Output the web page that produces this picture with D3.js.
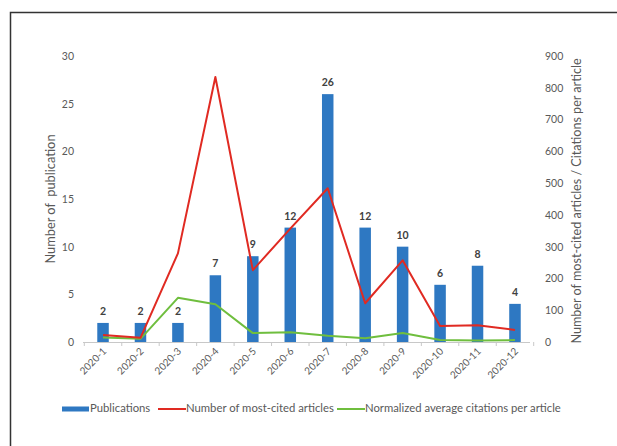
<!DOCTYPE html>
<html>
<head>
<meta charset="utf-8">
<script src="https://cdn.jsdelivr.net/npm/d3@7"></script>
<style>
  html, body { margin: 0; padding: 0; background: #fff; }
  svg { display: block; font-family: Lato, "Open Sans", sans-serif; }
</style>
</head>
<body>
<svg id="chart" width="617" height="446"></svg>
<script>
// Monthly categories
const months = ["2020-1","2020-2","2020-3","2020-4","2020-5","2020-6",
                "2020-7","2020-8","2020-9","2020-10","2020-11","2020-12"];
// Publications per month (left axis)
const publications = [2, 2, 2, 7, 9, 12, 26, 12, 10, 6, 8, 4];
// Number of most-cited articles (right axis)
const mostCited = [22, 13, 279, 834, 226, 357, 484, 122, 257, 50, 53, 38];
// Normalized average citations per article (right axis)
const normCitations = [14, 10, 139, 119, 28, 31, 20, 12, 28, 6, 5, 6];
// Axis ticks
const leftTicks = [0, 5, 10, 15, 20, 25, 30];
const rightTicks = [0, 100, 200, 300, 400, 500, 600, 700, 800, 900];
// Legend entries
const legendLabels = ["Publications", "Number of most-cited articles", "Normalized average citations per article"];

const svg = d3.select("#chart");
const C = { bar: "#2e78c2", red: "#e02a22", green: "#6fbe3e", text: "#595959", axis: "#c8c8c8" };

// Frame around the figure
svg.append("path")
  .attr("d", "M10.5,446 V12.5 H617")
  .attr("fill", "none").attr("stroke", "#333").attr("stroke-width", 1.5);

const x = d3.scaleBand().domain(months).range([84.3, 533.7]).padding(0);
const yL = d3.scaleLinear().domain([0, 30]).range([342, 56]);
const yR = d3.scaleLinear().domain([0, 900]).range([342, 56]);
const cx = d => x(d) + x.bandwidth() / 2;
const barW = 11.5;

// Left axis labels
const gL = svg.append("g").attr("transform", "translate(74,0)")
  .call(d3.axisLeft(yL).tickValues(leftTicks).tickSize(0).tickPadding(0));
gL.select(".domain").remove();
gL.selectAll("text").attr("fill", C.text).style("font-size", "10.5px").style("font-family", "Lato");

// Right axis labels
const gR = svg.append("g").attr("transform", "translate(545,0)")
  .call(d3.axisRight(yR).tickValues(rightTicks).tickSize(0).tickPadding(0));
gR.select(".domain").remove();
gR.selectAll("text").attr("fill", C.text).style("font-size", "10.5px").style("font-family", "Lato");

// Bars
svg.append("g").selectAll("rect").data(publications).join("rect")
  .attr("x", (d, i) => cx(months[i]) - barW / 2)
  .attr("width", barW)
  .attr("y", d => yL(d))
  .attr("height", d => yL(0) - yL(d))
  .attr("fill", C.bar);

// Category axis
const gX = svg.append("g").attr("transform", "translate(0,342)")
  .call(d3.axisBottom(x).tickSize(0).tickFormat(""));
gX.select(".domain").attr("stroke", C.axis).attr("d", "M83,0.5H530");
const edges = months.map(m => x(m)).concat([x.range()[1]]);
gX.selectAll(".edge").data(edges).join("line")
  .attr("x1", d => d).attr("x2", d => d).attr("y1", 0).attr("y2", 4)
  .attr("stroke", C.axis);
svg.append("g").selectAll("text").data(months).join("text")
  .attr("text-anchor", "end")
  .attr("transform", d => `translate(${cx(d) + 4},${352}) rotate(-45)`)
  .attr("fill", C.text).style("font-size", "10px")
  .text(d => d);

// Value labels above bars
svg.append("g").selectAll("text").data(publications).join("text")
  .attr("x", (d, i) => cx(months[i]))
  .attr("y", d => yL(d) - 8)
  .attr("text-anchor", "middle")
  .attr("fill", "#404040").style("font-size", "10.5px").style("font-weight", "bold")
  .text(d => d);

// Lines on the right axis
const line = d3.line().x((d, i) => cx(months[i])).y(d => yR(d));
svg.append("path").datum(normCitations).attr("d", line)
  .attr("fill", "none").attr("stroke", C.green).attr("stroke-width", 2).attr("stroke-linejoin", "round");
svg.append("path").datum(mostCited).attr("d", line)
  .attr("fill", "none").attr("stroke", C.red).attr("stroke-width", 2).attr("stroke-linejoin", "round");

// Axis titles
svg.append("text")
  .attr("transform", "translate(52,199) rotate(-90)")
  .attr("text-anchor", "middle").attr("dominant-baseline", "middle")
  .attr("fill", C.text).style("font-size", "12.8px").style("white-space", "pre")
  .text("Number of  publication");
svg.append("text")
  .attr("transform", "translate(578,201) rotate(-90)")
  .attr("text-anchor", "middle").attr("dominant-baseline", "middle")
  .attr("fill", C.text).style("font-size", "12.6px")
  .text("Number of most-cited articles / Citations per article");

// Legend
const lg = svg.append("g").attr("transform", "translate(0,409)");
const swatchX = [62, 158, 337];
const swatchColors = [C.bar, C.red, C.green];
lg.selectAll("rect.sw").data([0]).join("rect")
  .attr("x", swatchX[0]).attr("y", -2.5).attr("width", 27).attr("height", 5).attr("fill", C.bar);
lg.selectAll("line.sw").data([1, 2]).join("line")
  .attr("x1", i => swatchX[i]).attr("x2", i => swatchX[i] + 28)
  .attr("y1", 0).attr("y2", 0)
  .attr("stroke", i => swatchColors[i]).attr("stroke-width", 2);
lg.selectAll("text").data(legendLabels).join("text")
  .attr("x", (d, i) => swatchX[i] + 28)
  .attr("y", 0).attr("dominant-baseline", "middle")
  .attr("fill", C.text).style("font-size", "11.3px")
  .text(d => d);
</script>
</body>
</html>
